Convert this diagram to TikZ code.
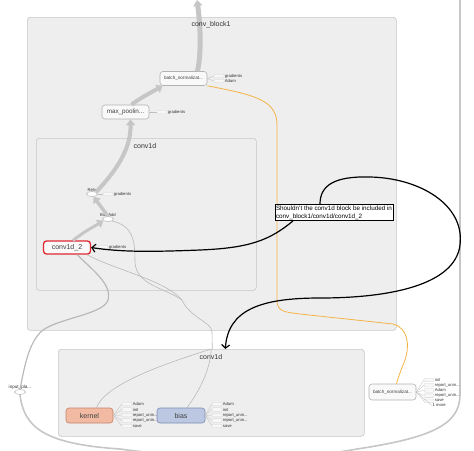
\documentclass[tikz,border=0pt]{standalone}
\usepackage{fontspec}
\setmainfont{Liberation Sans}
\usepackage{xcolor}
\usepackage{tikz}
\usetikzlibrary{calc, positioning, arrows.meta, shapes.geometric}
\definecolor{tfred}{RGB}{222,40,48}
\definecolor{tforange}{RGB}{245,180,72}
\definecolor{kernelfill}{RGB}{242,186,162}
\definecolor{kerneldraw}{RGB}{196,130,106}
\definecolor{biasfill}{RGB}{188,200,226}
\definecolor{biasdraw}{RGB}{124,140,178}
\newcommand{\reportunin}{report\_unin...}
\tikzset{
    scopebox/.style={rectangle, draw=gray!45, fill=gray!13, rounded corners=3pt, anchor=north west, inner sep=0pt, line width=0.6pt},
    scopelabel/.style={font=\fontsize{7}{8}\selectfont, text=black!80, inner sep=0pt},
    opnode/.style={rectangle, draw=gray!60, fill=gray!5, rounded corners=3pt, minimum width=47pt, minimum height=14pt, inner sep=0pt, line width=0.6pt, font=\fontsize{4.6}{5}\selectfont, text=black!75},
    opoval/.style={ellipse, draw=gray!60, fill=white, minimum width=11pt, minimum height=5pt, inner sep=0pt, line width=0.5pt},
    smalltext/.style={font=\fontsize{4.2}{5}\selectfont, text=black!80, inner sep=0.5pt},
    auxbox/.style={rectangle, draw=gray!35, fill=gray!6, rounded corners=1pt, minimum width=10pt, minimum height=3.5pt, inner sep=0pt, line width=0.3pt},
    auxlink/.style={draw=gray!50, line width=0.3pt},
    flow/.style={draw=gray!45, line width=4pt, -{Triangle[length=6pt, width=9pt]}},
    dataedge/.style={draw=gray!55, line width=0.6pt},
    loopedge/.style={draw=gray!45, line width=1.6pt},
    bnedge/.style={draw=tforange, line width=0.8pt},
    handpen/.style={draw=black, line width=1.2pt, -{Straight Barb[length=3.5pt, width=8pt]}},
    note/.style={rectangle, draw=black, fill=white, align=left, font=\fontsize{6.3}{8}\selectfont, inner sep=1.2pt, line width=0.6pt}
}

\begin{document}
\begin{tikzpicture}[x=1pt, y=-1pt]
    \useasboundingbox (0,0) rectangle (474,450);

    % Scopes
    \node[scopebox, minimum width=369pt, minimum height=313pt] (blockone) at (27,17) {};
    \node[scopebox, minimum width=220pt, minimum height=152pt] (convin) at (36,138) {};
    \node[scopebox, minimum width=306pt, minimum height=87pt] (convbox) at (58,349) {};

    % Ops inside conv_block1
    \node[opnode] (bnTop) at (183.5,78.5) {batch\_normalizat...};
    \node[opnode, font=\fontsize{6.3}{7}\selectfont] (pool) at (125.5,112) {max\_poolin...};
    \node[opoval, label={[smalltext, inner sep=0pt]above:Relu}] (relu) at (92,194) {};
    \node[opoval, label={[smalltext, inner sep=0pt]above:BiasAdd}] (biasadd) at (108,219) {};
    \node[opnode, draw=tfred, line width=1.3pt, minimum height=13pt, font=\fontsize{7}{8}\selectfont] (convtwo) at (67,247.5) {conv1d\_2};

    % Ops outside
    \node[opoval, label={[smalltext, inner sep=0pt, font=\fontsize{4.6}{5}\selectfont]above:input\_pla...}] (inputph) at (20,392) {};
    \node[opnode, minimum height=16pt] (bnBot) at (392.5,392) {batch\_normalizat...};
    \node[opnode, fill=kernelfill, draw=kerneldraw, minimum height=15pt, font=\fontsize{7}{8}\selectfont] (kernel) at (89.5,415.5) {kernel};
    \node[opnode, fill=biasfill, draw=biasdraw, minimum width=48pt, minimum height=15pt, font=\fontsize{7}{8}\selectfont] (bias) at (181,415.5) {bias};
    \coordinate (topout) at (197,0);
    \coordinate (topright) at (460,0);
    \coordinate (merge) at (182,300);

    % Auxiliary nodes
    \node[auxbox] (bnaux1) at (219,76) {};
    \node[smalltext, anchor=west] at (bnaux1.east) {gradients};
    \node[auxbox] (bnaux2) at (219,81) {};
    \node[smalltext, anchor=west] at (bnaux2.east) {Adam};
    \draw[auxlink] (bnTop.east) -- (bnaux1.west) (bnTop.east) -- (bnaux2.west);
    \node[auxbox] (poolaux) at (162,112) {};
    \node[smalltext, anchor=west] at (poolaux.east) {gradients};
    \draw[auxlink] (pool.east) -- (poolaux.west);
    \node[auxbox] (reluaux) at (108,194) {};
    \node[smalltext, anchor=west] at (reluaux.east) {gradients};
    \draw[auxlink] (relu.east) -- (reluaux.west);
    \node[auxbox] (convaux) at (103,247) {};
    \node[smalltext, anchor=west] at (convaux.east) {gradients};
    \foreach \auxname [count=\i] in {Adam, init, \reportunin, \reportunin, save} {
        \node[auxbox] (kaux\i) at (127,398.5+5.5*\i) {};
        \node[smalltext, anchor=west] at (kaux\i.east) {\auxname};
        \draw[auxlink] (kernel.east) -- (kaux\i.west);
        \node[auxbox] (baux\i) at (217,398.5+5.5*\i) {};
        \node[smalltext, anchor=west] at (baux\i.east) {\auxname};
        \draw[auxlink] (bias.east) -- (baux\i.west);
    }
    \foreach \auxname [count=\i] in {init, \reportunin, Adam, \reportunin, save} {
        \node[auxbox] (naux\i) at (429,374.8+5.2*\i) {};
        \node[smalltext, anchor=west] at (naux\i.east) {\auxname};
        \draw[auxlink] (bnBot.east) -- (naux\i.west);
    }
    \node[smalltext, anchor=west] (nmore) at (432,405.5) {1 more};
    \draw[auxlink] (bnBot.east) -- (nmore.west);

    % Main flow
    \draw[flow, line width=3pt] ([xshift=6pt]convtwo.north) .. controls (85,231) and (95,226) .. (biasadd.200);
    \draw[flow, line width=3.5pt] (biasadd.north) -- (relu.-60);
    \draw[flow] (relu.north east) .. controls (115,172) and (131,150) .. ([xshift=5pt]pool.south);
    \draw[flow] ([xshift=6pt]pool.north) .. controls (140,98) and (152,92) .. ([xshift=3pt]bnTop.south west);
    \draw[flow, line width=5pt] ([xshift=14pt]bnTop.north) .. controls (201,55) and (201,30) .. (topout);

    % Scope labels
    \node[scopelabel] (blockonelabel) at (211,25) {conv\_block1};
    \node[scopelabel] (convinlabel) at (145,146) {conv1d};
    \node[scopelabel] (convboxlabel) at (211,357) {conv1d};

    % Data edges
    \draw[dataedge] ([xshift=20pt]convtwo.south) .. controls (115,270) and (165,280) .. (merge);
    \draw[dataedge] (biasadd.south east) .. controls (133,226) and (135,240) .. (135,262) .. controls (136,285) and (165,288) .. (merge);
    \draw[dataedge] (merge) .. controls (190,318) and (212,322) .. (212,332) -- ([xshift=1pt]convbox.north);
    \draw[dataedge, line width=1.2pt] ([xshift=10pt]convtwo.south) .. controls (95,272) and (112,285) .. (108,300) .. controls (104,314) and (60,318) .. (43,330) .. controls (28,342) and (24,370) .. (inputph.north);
    \draw[dataedge] (convbox.north) .. controls (160,365) and (105,385) .. ([xshift=7pt]kernel.north);
    \draw[dataedge] (convbox.north) .. controls (210,370) and (200,390) .. ([xshift=6pt]bias.north);
    \draw[loopedge] (inputph.south) .. controls (24,428) and (45,444) .. (120,449) .. controls (200,460) and (300,460) .. (357,449) .. controls (430,438) and (460,425) .. (460,395) -- (topright);
    \draw[bnedge] (bnTop.south east) .. controls (255,95) and (277,100) .. (277,125) -- (277,300) .. controls (277,312) and (285,312) .. (300,314) -- (393,324) .. controls (408,328) and (410,345) .. (405,360) .. controls (401,370) and (398,378) .. ([xshift=4pt]bnBot.north);

    % Annotation
    \node[note] (question) at (334,212.5) {Shouldn't the conv1d block be included in\\conv\_block1/conv1d/conv1d\_2};
    \draw[handpen] ([xshift=-41pt]question.south) .. controls (270,240) and (250,248) .. (200,250) .. controls (150,252) and (120,252) .. (convtwo.east);
    \draw[handpen] ([xshift=-14pt]question.north) .. controls (320,185) and (335,176) .. (370,177) .. controls (420,178) and (465,205) .. (460,245) .. controls (455,285) and (390,298) .. (320,298) .. controls (260,298) and (228,310) .. ([xshift=14pt]convbox.north);
\end{tikzpicture}
\end{document}
